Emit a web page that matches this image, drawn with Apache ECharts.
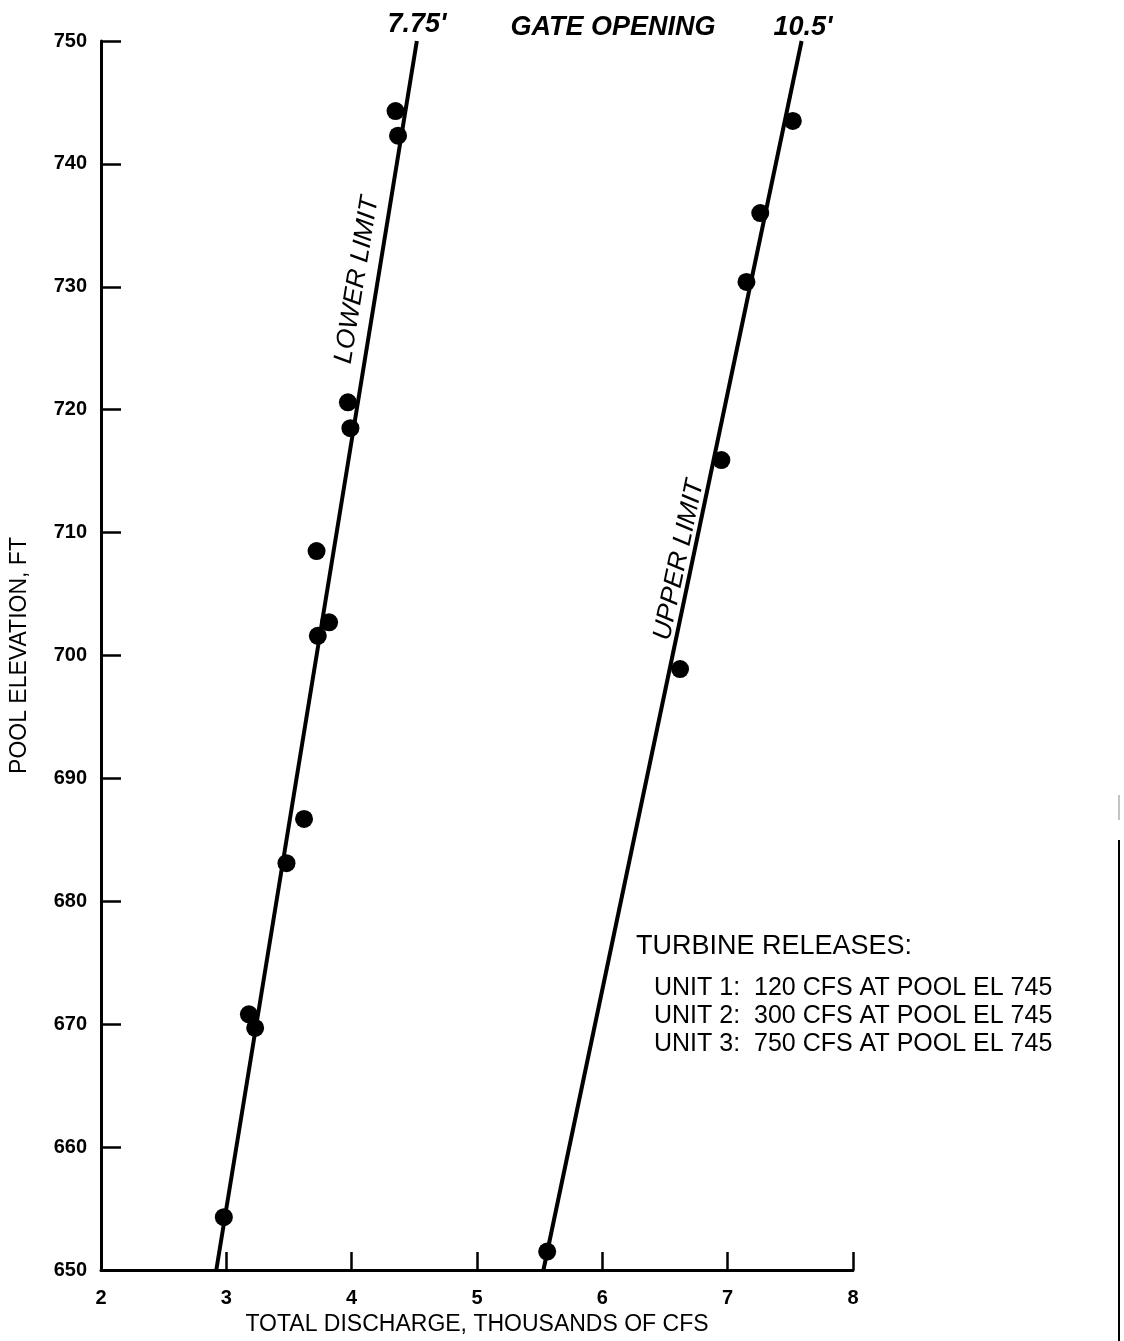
<!DOCTYPE html>
<html>
<head>
<meta charset="utf-8">
<script src="https://cdn.jsdelivr.net/npm/echarts@6/dist/echarts.min.js"></script>
<style>
html,body{margin:0;padding:0;background:#fff;}
#chart{width:1124px;height:1341px;}
</style>
</head>
<body>
<div id="chart"></div>
<script>
// Axis ticks
var xTicks = [2, 3, 4, 5, 6, 7, 8];
var yTicks = [650, 660, 670, 680, 690, 700, 710, 720, 730, 740, 750];

// Observed points — lower limit (7.75' gate opening)
var lowerX = [4.35, 4.37, 3.97, 3.99, 3.72, 3.82, 3.73, 3.62, 3.48, 3.18, 3.23, 2.98];
var lowerY = [744.3, 742.3, 720.6, 718.5, 708.5, 702.7, 701.6, 686.7, 683.1, 670.8, 669.7, 654.3];

// Observed points — upper limit (10.5' gate opening)
var upperX = [7.52, 7.26, 7.15, 6.95, 6.62, 5.56];
var upperY = [743.5, 736.0, 730.4, 715.9, 698.9, 651.5];

// Fitted limit lines (end points)
var lowerLineX = [2.92, 4.52];
var lowerLineY = [650, 750];
var upperLineX = [5.53, 7.59];
var upperLineY = [650, 750];

var notes = ["TURBINE RELEASES:",
  "UNIT 1:  120 CFS AT POOL EL 745",
  "UNIT 2:  300 CFS AT POOL EL 745",
  "UNIT 3:  750 CFS AT POOL EL 745"];

function pairs(xs, ys){ return xs.map(function(x,i){ return [x, ys[i]]; }); }

var FONT = '"Liberation Sans", Arial, Helvetica, sans-serif';
var chart = echarts.init(document.getElementById('chart'), null, {renderer:'canvas'});

var option = {
  backgroundColor: '#fff',
  animation: false,
  grid: {left: 100, right: 271, top: 41, bottom: 71},
  xAxis: {
    type: 'value', min: 2, max: 8, interval: 1,
    axisLine: {show: true, lineStyle: {color: '#000', width: 3}},
    axisTick: {show: true, inside: true, length: 18, lineStyle: {color: '#000', width: 2.5}},
    splitLine: {show: false},
    axisLabel: {color: '#000', fontFamily: FONT, fontWeight: 'bold', fontSize: 20, margin: 18,
      formatter: function(v){ return xTicks.indexOf(v) >= 0 ? String(v) : ''; }},
    name: 'TOTAL DISCHARGE, THOUSANDS OF CFS',
    nameLocation: 'middle', nameGap: 38,
    nameTextStyle: {color: '#000', fontFamily: FONT, fontSize: 23}
  },
  yAxis: {
    type: 'value', min: 650, max: 750, interval: 10,
    axisLine: {show: true, lineStyle: {color: '#000', width: 3}},
    axisTick: {show: true, inside: true, length: 20, lineStyle: {color: '#000', width: 2.5}},
    splitLine: {show: false},
    axisLabel: {color: '#000', fontFamily: FONT, fontWeight: 'bold', fontSize: 20, margin: 14,
      formatter: function(v){ return yTicks.indexOf(v) >= 0 ? String(v) : ''; }},
    name: 'POOL ELEVATION, FT',
    nameLocation: 'middle', nameGap: 70, nameRotate: 90,
    nameTextStyle: {color: '#000', fontFamily: FONT, fontSize: 23}
  },
  series: [
    {type: 'line', data: pairs(lowerLineX, lowerLineY), symbol: 'none',
      lineStyle: {color: '#000', width: 4}, silent: true},
    {type: 'line', data: pairs(upperLineX, upperLineY), symbol: 'none',
      lineStyle: {color: '#000', width: 4}, silent: true},
    {type: 'scatter', data: pairs(lowerX, lowerY), symbol: 'circle', symbolSize: 18,
      itemStyle: {color: '#000', opacity: 1}},
    {type: 'scatter', data: pairs(upperX, upperY), symbol: 'circle', symbolSize: 18,
      itemStyle: {color: '#000', opacity: 1}}
  ],
  graphic: [
    {type: 'text', x: 417, y: 25, style: {text: "7.75'", font: 'italic bold 27px ' + FONT, fill: '#000', align: 'center', verticalAlign: 'middle'}},
    {type: 'text', x: 613, y: 28, style: {text: 'GATE OPENING', font: 'italic bold 27px ' + FONT, fill: '#000', align: 'center', verticalAlign: 'middle'}},
    {type: 'text', x: 803, y: 28, style: {text: "10.5'", font: 'italic bold 27px ' + FONT, fill: '#000', align: 'center', verticalAlign: 'middle'}},
    {type: 'text', x: 357, y: 280, rotation: 1.408, style: {text: 'LOWER LIMIT', font: 'italic 26px ' + FONT, fill: '#000', align: 'center', verticalAlign: 'middle'}},
    {type: 'text', x: 679, y: 560, rotation: 1.363, style: {text: 'UPPER LIMIT', font: 'italic 26px ' + FONT, fill: '#000', align: 'center', verticalAlign: 'middle'}},
    {type: 'text', x: 636, y: 947, style: {text: notes[0], font: '27px ' + FONT, fill: '#000', align: 'left', verticalAlign: 'middle'}},
    {type: 'text', x: 654, y: 988, style: {text: notes[1], font: '25px ' + FONT, fill: '#000', align: 'left', verticalAlign: 'middle'}},
    {type: 'text', x: 654, y: 1016, style: {text: notes[2], font: '25px ' + FONT, fill: '#000', align: 'left', verticalAlign: 'middle'}},
    {type: 'text', x: 654, y: 1044, style: {text: notes[3], font: '25px ' + FONT, fill: '#000', align: 'left', verticalAlign: 'middle'}},
    {type: 'line', shape: {x1: 1119, y1: 795, x2: 1119, y2: 820}, style: {stroke: '#888', lineWidth: 1}},
    {type: 'line', shape: {x1: 1119, y1: 840, x2: 1119, y2: 1341}, style: {stroke: '#000', lineWidth: 2}}
  ]
};
chart.setOption(option);
</script>
</body>
</html>
